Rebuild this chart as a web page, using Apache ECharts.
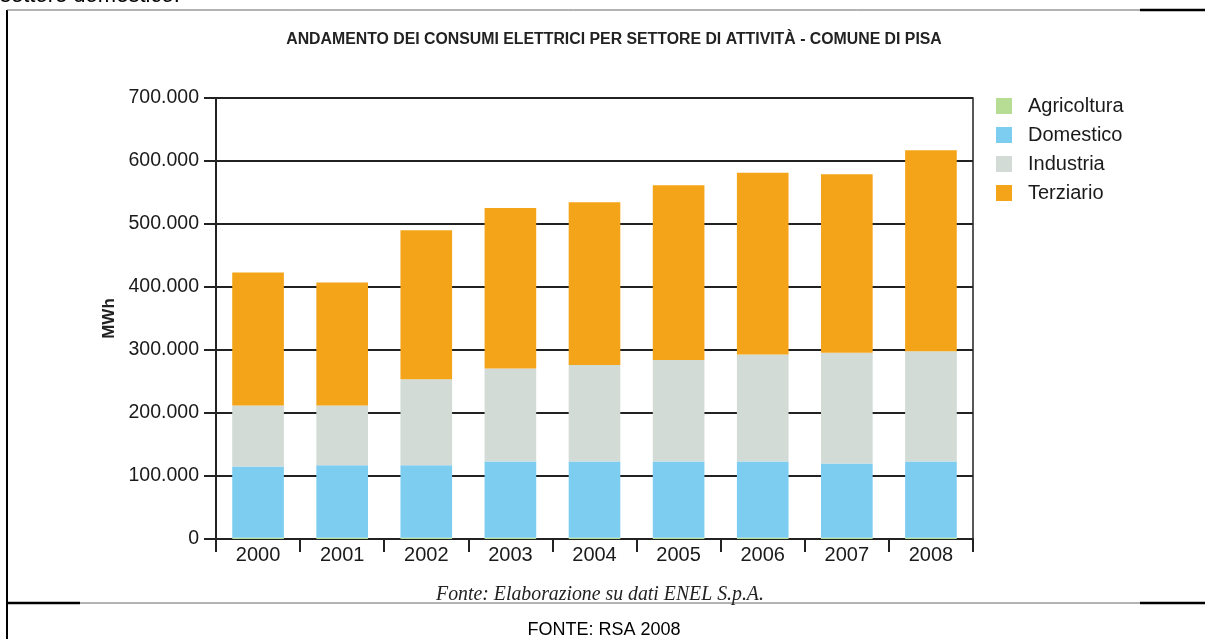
<!DOCTYPE html>
<html>
<head>
<meta charset="utf-8">
<script src="https://cdn.jsdelivr.net/npm/echarts@6/dist/echarts.min.js"></script>
<style>
html,body{margin:0;padding:0;background:#fff;}
#chart{width:1205px;height:639px;}
</style>
</head>
<body>
<div id="chart"></div>
<script>
const years = ['2000','2001','2002','2003','2004','2005','2006','2007','2008'];
const agricoltura = [2000, 2000, 2000, 2000, 2000, 2000, 2000, 2000, 2000];
const domestico   = [113000, 115000, 115000, 121000, 121000, 121000, 121000, 118000, 121000];
const industria   = [97000, 95000, 136500, 147500, 153000, 161000, 170000, 175500, 175000];
const terziario   = [211000, 195000, 236500, 255000, 258500, 277500, 288500, 283500, 319000];
const yTicks = [0, 100000, 200000, 300000, 400000, 500000, 600000, 700000];

const seriesNames = ['Agricoltura','Domestico','Industria','Terziario'];
const seriesData = [agricoltura, domestico, industria, terziario];
const colors = ['#b7dc94','#7dcdf1','#d2dbd5','#f4a419'];

function fmt(v){
  return String(v).replace(/\B(?=(\d{3})+(?!\d))/g, '.');
}

const chart = echarts.init(document.getElementById('chart'));
const font = 'Liberation Sans, Arial, sans-serif';

chart.setOption({
  animation: false,
  backgroundColor: '#ffffff',
  color: colors,
  grid: {
    left: 216, top: 98, width: 757, height: 441,
    show: true, borderColor: '#222', borderWidth: 1.5, backgroundColor: 'transparent'
  },
  legend: {
    orient: 'vertical',
    left: 991, top: 91,
    icon: 'rect',
    itemWidth: 16, itemHeight: 16,
    itemGap: 9,
    data: seriesNames,
    textStyle: {fontFamily: font, fontSize: 20, color: '#1a1a1a', padding: [0,0,0,11]}
  },
  xAxis: {
    type: 'category',
    data: years,
    axisLine: {lineStyle: {color: '#222', width: 2}},
    axisTick: {show: true, length: 13, lineStyle: {color: '#222', width: 2}},
    axisLabel: {fontFamily: font, fontSize: 20, color: '#1a1a1a', margin: 6}
  },
  yAxis: {
    type: 'value',
    min: 0, max: yTicks[yTicks.length-1], interval: yTicks[1]-yTicks[0],
    name: 'MWh',
    nameLocation: 'middle',
    nameGap: 89,
    nameRotate: 90,
    nameTextStyle: {fontFamily: font, fontSize: 17, fontWeight: 'bold', color: '#222'},
    axisLine: {show: true, lineStyle: {color: '#222', width: 2}},
    axisTick: {show: true, length: 12, lineStyle: {color: '#222', width: 2}},
    axisLabel: {fontFamily: font, fontSize: 19.5, color: '#1a1a1a', margin: 17, formatter: fmt},
    splitLine: {show: true, lineStyle: {color: '#222', width: 2}}
  },
  series: seriesNames.map((n, i) => ({
    name: n,
    type: 'bar',
    stack: 'tot',
    data: seriesData[i],
    barCategoryGap: '38.6%',
    itemStyle: {color: colors[i]}
  })),
  graphic: [
    {type: 'text', left: 0, top: -15, style: {text: 'settore domestico.', fontFamily: font, fontSize: 22, fill: '#000'}},
    {type: 'line', shape: {x1: 7, y1: 10, x2: 7, y2: 639}, style: {stroke: '#000', lineWidth: 2}},
    {type: 'line', shape: {x1: 7, y1: 10, x2: 1140, y2: 10}, style: {stroke: '#666', lineWidth: 1}},
    {type: 'line', shape: {x1: 1140, y1: 10, x2: 1205, y2: 10}, style: {stroke: '#000', lineWidth: 2.5}},
    {type: 'line', shape: {x1: 7, y1: 603, x2: 80, y2: 603}, style: {stroke: '#000', lineWidth: 2.5}},
    {type: 'line', shape: {x1: 80, y1: 603, x2: 1140, y2: 603}, style: {stroke: '#666', lineWidth: 1}},
    {type: 'line', shape: {x1: 1140, y1: 603, x2: 1205, y2: 603}, style: {stroke: '#000', lineWidth: 2.5}},
    {type: 'text', x: 614, y: 40, scaleX: 0.99,
     style: {text: 'ANDAMENTO DEI CONSUMI ELETTRICI PER SETTORE DI ATTIVITÀ - COMUNE DI PISA',
             fontFamily: font, fontWeight: 'bold', fontSize: 16, fill: '#222', textAlign: 'center', textVerticalAlign: 'middle'}},
    {type: 'text', x: 600, y: 594, scaleX: 0.9,
     style: {text: 'Fonte: Elaborazione su dati ENEL S.p.A.', fontFamily: 'Liberation Serif, Times New Roman, serif',
             fontStyle: 'italic', fontSize: 22, fill: '#222', textAlign: 'center', textVerticalAlign: 'middle'}},
    {type: 'text', x: 604, y: 630,
     style: {text: 'FONTE: RSA 2008', fontFamily: font, fontSize: 18, fill: '#000', textAlign: 'center', textVerticalAlign: 'middle'}}
  ]
});
</script>
</body>
</html>
